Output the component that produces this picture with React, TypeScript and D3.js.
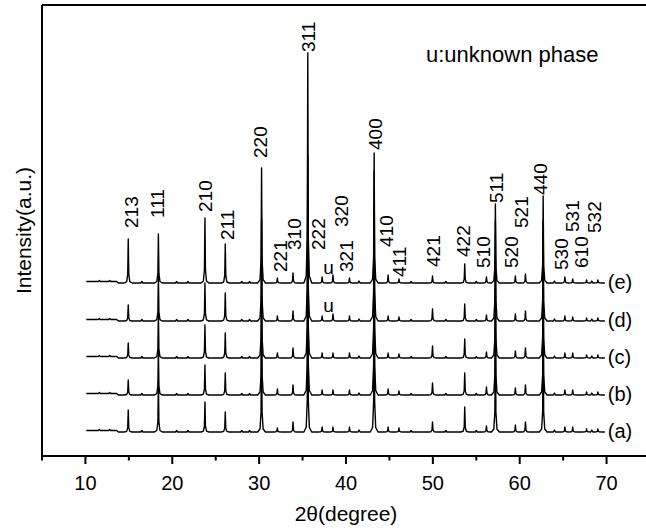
import React from "react";
import * as d3 from "d3";

const W = 646;
const H = 529;
const plot = { left: 42, right: 650, top: 5, bottom: 456 };

// x axis
const xDomain = [5, 75];
const xMajorTicks = [10, 20, 30, 40, 50, 60, 70];
const xMinorTicks = [5, 15, 25, 35, 45, 55, 65, 75];

// y (arbitrary intensity units, trace (a) baseline = 0)
const yDomain = [-24, 427];

const traceStart = 10.1;
const traceEnd = 69.8;
const traceNames = ["(a)", "(b)", "(c)", "(d)", "(e)"];
const traceOffsets = [0, 37, 74, 111, 149];

// peak positions (2θ, degree)
const peakPositions = [
  14.93, 18.4, 23.76, 26.1, 30.28, 32.1, 33.9, 35.6, 37.25, 38.5, 40.4, 43.24,
  44.85, 46.1, 49.96, 53.67, 56.17, 57.2, 59.5, 60.66, 62.7, 65.2, 66.1, 67.7, 69.0,
];
// peak heights per sample
const heightsA = [22, 50, 30, 20, 100, 4, 10, 160, 5, 5, 5, 150, 5, 4, 10, 25, 6, 100, 7, 10, 100, 5, 5, 3, 3];
const heightsB = [15, 45, 30, 22, 100, 6, 10, 160, 5, 5, 5, 150, 6, 4, 12, 22, 8, 100, 7, 10, 100, 5, 5, 3, 3];
const heightsC = [15, 45, 33, 25, 100, 5, 10, 160, 5, 5, 5, 150, 5, 4, 12, 19, 6, 100, 7, 10, 100, 5, 5, 3, 3];
const heightsD = [16, 45, 38, 28, 103, 5, 10, 166, 5, 7, 5, 150, 5, 4, 12, 17, 6, 100, 7, 10, 100, 5, 4, 3, 3];
const heightsE = [44, 49, 65, 39, 115, 5, 10, 230, 6, 8, 5, 130, 8, 4, 7, 19, 6, 79, 7, 9, 87, 6, 4, 3, 3];
const traceHeights = [heightsA, heightsB, heightsC, heightsD, heightsE];

// small baseline bumps (noise)
const bumpPositions = [11.6, 12.8, 16.5, 20.5, 21.8, 28.0, 28.9, 41.5, 47.5, 51.5, 55.0, 64.0, 68.3];
const bumpHeights = [1, 1, 1.5, 1.5, 1.5, 1.5, 1.5, 2, 1.5, 1.5, 1.5, 2, 2];

// Miller index labels
const hklLabels = [
  "213", "111", "210", "211", "220", "221", "310", "311", "222", "320", "321", "400", "410",
  "411", "421", "422", "510", "511", "520", "521", "440", "530", "531", "610", "532",
];
const hklLabelPos = [
  15.3, 18.3, 23.8, 26.3, 30.1, 32.4, 34.0, 35.6, 36.8, 39.4, 40.0, 43.3, 44.6,
  46.1, 50.0, 53.5, 55.8, 57.3, 59.0, 60.2, 62.4, 64.8, 66.0, 67.1, 68.6,
];
const hklLabelY = [
  204, 214, 220, 192, 274, 160, 182, 380, 182, 205, 160, 282, 185,
  155, 165, 175, 164, 229, 164, 204, 237, 162, 200, 164, 199,
];

// unknown phase marks
const unknownPos = 38.0;
const unknownTraces = [3, 4];
const unknownLift = 9;

const annotation = "u:unknown phase";

const font = "'Liberation Sans', Arial, sans-serif";

function buildTrace(heights: number[], offset: number): [number, number][] {
  const peakDx = [-0.45, -0.18, -0.06, 0, 0.06, 0.18, 0.45];
  const peakFrac = [0, 0.03, 0.2, 1, 0.2, 0.03, 0];
  const bumpDx = [-0.12, 0, 0.12];
  const bumpFrac = [0, 1, 0];
  const pts: [number, number][] = [];
  const features: { x: number; pts: [number, number][] }[] = [];
  peakPositions.forEach((p, i) => {
    const h = heights[i];
    features.push({ x: p, pts: peakDx.map((dx, k) => [p + dx, offset + h * peakFrac[k]]) });
  });
  bumpPositions.forEach((p, i) => {
    const h = bumpHeights[i];
    features.push({ x: p, pts: bumpDx.map((dx, k) => [p + dx, offset + h * bumpFrac[k]]) });
  });
  features.sort((a, b) => a.x - b.x);
  pts.push([traceStart, offset + 1.5]);
  features
    .filter((f) => f.x < 13.6)
    .forEach((f) => f.pts.forEach((q) => pts.push([q[0], q[1] + 1.5])));
  pts.push([13.6, offset + 1.5]);
  pts.push([13.8, offset]);
  features.filter((f) => f.x >= 13.6).forEach((f) => f.pts.forEach((q) => pts.push(q)));
  pts.push([traceEnd, offset]);
  return pts;
}

export default function App() {
  const x = d3.scaleLinear().domain(xDomain).range([plot.left, plot.right]);
  const y = d3.scaleLinear().domain(yDomain).range([plot.bottom, plot.top]);
  const line = d3
    .line<[number, number]>()
    .x((d) => x(d[0]))
    .y((d) => y(d[1]));

  return (
    <svg
      width={W}
      height={H}
      style={{ position: "absolute", left: 0, top: 0, background: "#fff" }}
      fontFamily={font}
    >
      <rect x={0} y={0} width={W} height={H} fill="#fff" />
      {/* traces */}
      {traceHeights.map((hs, i) => (
        <path
          key={i}
          d={line(buildTrace(hs, traceOffsets[i])) || ""}
          fill="none"
          stroke="#000"
          strokeWidth={1.4}
          strokeLinejoin="round"
        />
      ))}
      {/* trace labels */}
      {traceNames.map((t, i) => (
        <text key={t} x={x(traceEnd) + 3} y={y(traceOffsets[i]) + 6} fontSize={20} fill="#000">
          {t}
        </text>
      ))}
      {/* hkl labels */}
      {hklLabels.map((t, i) => {
        const px = x(hklLabelPos[i]);
        const py = y(hklLabelY[i]);
        return (
          <text
            key={t}
            transform={`translate(${px},${py}) rotate(-90)`}
            dy="0.36em"
            fontSize={19}
            fill="#000"
          >
            {t}
          </text>
        );
      })}
      {/* unknown phase marks */}
      {unknownTraces.map((ti) => (
        <text
          key={ti}
          x={x(unknownPos)}
          y={y(traceOffsets[ti] + unknownLift)}
          fontSize={19}
          textAnchor="middle"
          fill="#000"
        >
          u
        </text>
      ))}
      <text x={426} y={62} fontSize={22} fill="#000">
        {annotation}
      </text>
      {/* frame */}
      <line x1={plot.left} x2={plot.right} y1={plot.top} y2={plot.top} stroke="#000" strokeWidth={2} />
      <line x1={plot.left} x2={plot.left} y1={plot.top} y2={plot.bottom} stroke="#000" strokeWidth={2} />
      <line x1={plot.left} x2={plot.right} y1={plot.bottom} y2={plot.bottom} stroke="#000" strokeWidth={2} />
      {/* ticks */}
      {xMajorTicks.map((t) => (
        <g key={t}>
          <line x1={x(t)} x2={x(t)} y1={plot.bottom} y2={plot.bottom + 8} stroke="#000" strokeWidth={2} />
          <text x={x(t)} y={490} fontSize={20} textAnchor="middle" fill="#000">
            {t}
          </text>
        </g>
      ))}
      {xMinorTicks.map((t) => (
        <line key={t} x1={x(t)} x2={x(t)} y1={plot.bottom} y2={plot.bottom + 4.5} stroke="#000" strokeWidth={2} />
      ))}
      <text x={(plot.left + plot.right) / 2} y={521} fontSize={21} textAnchor="middle" fill="#000">
        2θ(degree)
      </text>
      <text
        transform={`translate(31,${(plot.top + plot.bottom) / 2}) rotate(-90)`}
        fontSize={21}
        textAnchor="middle"
        fill="#000"
      >
        Intensity(a.u.)
      </text>
    </svg>
  );
}
